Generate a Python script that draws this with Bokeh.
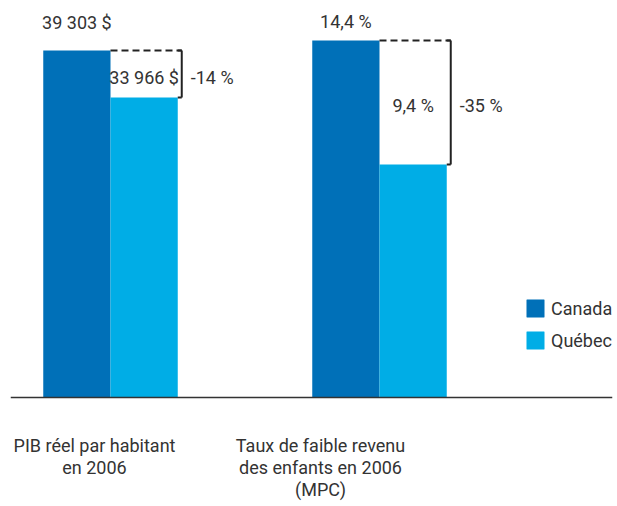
from bokeh.plotting import figure
from bokeh.models import ColumnDataSource, Range1d, Span, Legend, LegendItem
from bokeh.core.properties import value
from bokeh.embed import file_html
from bokeh.resources import INLINE

# ---- data ----
categories = ["PIB réel par habitant\nen 2006",
              "Taux de faible revenu\ndes enfants en 2006\n(MPC)"]
series = ["Canada", "Québec"]
canada = [39303, 14.4]
quebec = [33966, 9.4]
canada_labels = ["39 303 $", "14,4 %"]
quebec_labels = ["33 966 $", "9,4 %"]
diff_labels = ["-14 %", "-35 %"]

# ---- style ----
FONT = "Roboto"
TXT = "#333333"
C_CAN = "#0070b8"
C_QC = "#00ade6"
FS = "18px"
UNIT = 269.0  # px per group
W, H = 617, 506
X0, BASE = 110, 397  # first group centre / baseline, in px
FL, FR = 10, 612     # frame left / right, in px

p = figure(width=W, height=H, output_backend="svg", toolbar_location=None,
           x_axis_type=None, y_axis_type=None, min_border=0,
           min_border_left=FL, min_border_right=W - FR,
           x_range=Range1d((FL - X0) / UNIT, (FR - X0) / UNIT),
           y_range=Range1d(-(H - BASE) / 347 * canada[0], BASE / 347 * canada[0]))
p.extra_y_ranges = {"pct": Range1d(-(H - BASE) / 357 * canada[1], BASE / 357 * canada[1])}
p.outline_line_color = None
p.xgrid.visible = False
p.ygrid.visible = False
p.background_fill_color = "white"
p.border_fill_color = "white"

range_names = ["default", "pct"]
top_offsets = [-28, -19]      # screen offsets of top value labels
cat_offsets = [-16, -59]      # screen x offsets of category labels
bw = 0.25
tick = 4 / UNIT
gap = 4 / UNIT

can_rs, qc_rs = [], []
for g in range(2):
    rn = range_names[g]
    src = ColumnDataSource(dict(
        xc=[g - bw / 2], xq=[g + bw / 2],
        can=[canada[g]], qc=[quebec[g]],
        mid=[(canada[g] + quebec[g]) / 2],
        xb=[g + bw + gap], xt=[g + bw + gap - tick],
        xl=[g],
        can_lab=[canada_labels[g]], qc_lab=[quebec_labels[g]],
        diff=[diff_labels[g]],
    ))
    r1 = p.vbar(x="xc", top="can", bottom=0, width=bw, source=src, y_range_name=rn,
                fill_color=C_CAN, line_color=None)
    r2 = p.vbar(x="xq", top="qc", bottom=0, width=bw, source=src, y_range_name=rn,
                fill_color=C_QC, line_color=None)
    can_rs.append(r1)
    qc_rs.append(r2)
    # dashed line at Canada level
    p.segment(x0="xl", y0="can", x1="xb", y1="can", source=src, y_range_name=rn,
              line_color="#222222", line_width=2, line_dash="7 4")
    # bracket
    p.segment(x0="xb", y0="can", x1="xb", y1="qc", source=src, y_range_name=rn,
              line_color="#222222", line_width=2)
    p.segment(x0="xt", y0="qc", x1="xb", y1="qc", source=src, y_range_name=rn,
              line_color="#222222", line_width=2)
    p.segment(x0="xt", y0="can", x1="xb", y1="can", source=src, y_range_name=rn,
              line_color="#222222", line_width=2)
    # labels
    p.text(x="xc", y="can", text="can_lab", source=src, y_range_name=rn,
           y_offset=top_offsets[g], text_align="center", text_baseline="middle",
           text_font=value(FONT), text_font_size=FS, text_color=TXT)
    p.text(x="xq", y="mid", text="qc_lab", source=src, y_range_name=rn,
           y_offset=3, text_align="center", text_baseline="middle",
           text_font=value(FONT), text_font_size=FS, text_color=TXT)
    p.text(x="xb", y="mid", text="diff", source=src, y_range_name=rn,
           x_offset=9, y_offset=3, text_align="left", text_baseline="middle",
           text_font=value(FONT), text_font_size=FS, text_color=TXT)

# category labels
cat_src = ColumnDataSource(dict(x=[0, 1], y=[0, 0], t=categories, xo=cat_offsets))
p.text(x="x", y="y", text="t", source=cat_src, x_offset="xo", y_offset=37,
       text_align="center", text_baseline="top", text_line_height=1.05,
       text_font=value(FONT), text_font_size=FS, text_color=TXT)

p.add_layout(Span(location=0, dimension="width", line_color="#333333", line_width=1.5))

legend = Legend(items=[LegendItem(label=series[0], renderers=can_rs),
                       LegendItem(label=series[1], renderers=qc_rs)],
                location=(524 - FL, H - 351), orientation="vertical",
                glyph_width=22, glyph_height=22, label_height=22, spacing=10,
                padding=0, margin=0, border_line_color=None,
                background_fill_alpha=0, label_standoff=5,
                label_text_font=FONT, label_text_font_size=FS,
                label_text_color=TXT)
p.add_layout(legend)

open("out.html", "w").write(file_html(p, INLINE))
